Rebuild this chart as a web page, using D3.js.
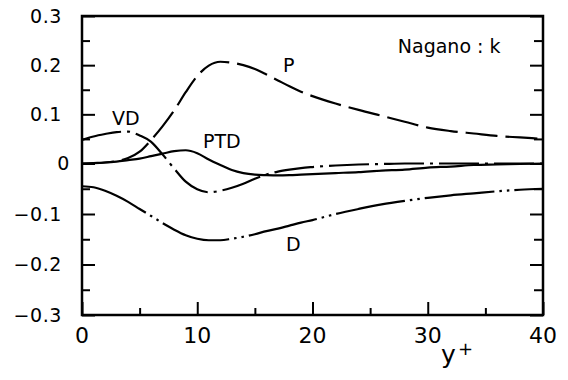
<!DOCTYPE html>
<html>
<head>
<meta charset="utf-8">
<script src="https://cdn.jsdelivr.net/npm/d3@7"></script>
<style>
  html, body { margin: 0; padding: 0; background: #fff; }
  svg { display: block; }
  text { font-family: "DejaVu Sans", sans-serif; fill: #000; }
</style>
</head>
<body>
<svg id="chart" width="568" height="380"></svg>
<script>
// Wall distance y+ shared by every budget term
const yPlus = [0, 1, 2, 3, 4, 5, 6, 7, 8, 9, 10, 11, 12, 13, 14, 15, 16, 17, 18, 19, 20,
               22, 24, 26, 28, 30, 32, 34, 36, 38, 40];

// Budget terms of k (Nagano model)
const production = [0, 0.0005, 0.002, 0.005, 0.011, 0.024, 0.048, 0.076, 0.108, 0.145, 0.178,
                    0.199, 0.207, 0.205, 0.200, 0.192, 0.181, 0.169, 0.157, 0.146, 0.137,
                    0.122, 0.109, 0.097, 0.085, 0.073, 0.066, 0.061, 0.056, 0.053, 0.050];
const viscousDiffusion = [0.048, 0.055, 0.060, 0.064, 0.065, 0.057, 0.044, 0.018, -0.010, -0.036, -0.051,
                          -0.057, -0.054, -0.048, -0.040, -0.030, -0.022, -0.016, -0.012, -0.009, -0.007,
                          -0.004, -0.002, -0.001, 0, 0, 0, 0, 0, 0, 0];
const turbDiffusion = [0, 0.001, 0.002, 0.004, 0.007, 0.010, 0.015, 0.020, 0.025, 0.027, 0.021,
                       0.008, -0.003, -0.013, -0.019, -0.022, -0.023, -0.0235, -0.023, -0.022, -0.021,
                       -0.019, -0.017, -0.014, -0.012, -0.008, -0.006, -0.003, -0.002, -0.001, 0];
const dissipation = [-0.045, -0.047, -0.054, -0.064, -0.076, -0.090, -0.104, -0.118, -0.131, -0.142, -0.149,
                     -0.152, -0.152, -0.149, -0.145, -0.140, -0.134, -0.129, -0.123, -0.117, -0.112,
                     -0.100, -0.090, -0.081, -0.074, -0.068, -0.063, -0.059, -0.055, -0.052, -0.050];

const seriesNames = ["P", "VD", "PTD", "D"];

// Tick values and labels
const xMajorTicks = [0, 10, 20, 30, 40];
const xMinorTicks = [5, 15, 25, 35];
const xTickLabels = ["0", "10", "20", "30", "40"];
const yMajorTicks = [-0.3, -0.2, -0.1, 0, 0.1, 0.2, 0.3];
const yMinorTicks = [-0.25, -0.15, -0.05, 0.05, 0.15, 0.25];
const yTickLabels = ["\u22120.3", "\u22120.2", "\u22120.1", "0", "0.1", "0.2", "0.3"];

const xTitle = "y";
const xTitleSup = "+";
const panelTitle = "Nagano : k";

const svg = d3.select("#chart");
const W = 568, H = 380;
const frame = { left: 82, right: 543, top: 16, bottom: 315 };

const x = d3.scaleLinear().domain([0, 40]).range([frame.left, frame.right]);
const y = d3.scaleLinear().domain([-0.3, 0, 0.3]).range([frame.bottom, 163.5, frame.top]);

svg.append("rect").attr("width", W).attr("height", H).attr("fill", "#fff");

// Curves
const styles = {
  P:   { values: production,       dash: "32,8" },
  VD:  { values: viscousDiffusion, dash: "40,6,3,6" },
  PTD: { values: turbDiffusion,    dash: null },
  D:   { values: dissipation,      dash: "70,5,2.5,5,2.5,5" }
};

const line = d3.line()
  .x(d => x(d[0]))
  .y(d => y(d[1]))
  .curve(d3.curveMonotoneX);

const curves = svg.append("g").attr("fill", "none").attr("stroke", "#000").attr("stroke-width", 2.2);
seriesNames.forEach(name => {
  const s = styles[name];
  const pts = yPlus.map((v, i) => [v, s.values[i]]);
  const p = curves.append("path").attr("d", line(pts));
  if (s.dash) p.attr("stroke-dasharray", s.dash);
});

// Ticks pointing into the frame
function ticks(axis, values, size, tx, ty) {
  const g = svg.append("g")
    .attr("transform", `translate(${tx},${ty})`)
    .call(axis.tickValues(values).tickSize(size).tickFormat(""));
  g.select(".domain").remove();
  g.selectAll("line").attr("stroke", "#000").attr("stroke-width", 2);
}
ticks(d3.axisRight(y), yMajorTicks, 13, frame.left, 0);
ticks(d3.axisRight(y), yMinorTicks, 8, frame.left, 0);
ticks(d3.axisLeft(y), yMajorTicks, 13, frame.right, 0);
ticks(d3.axisLeft(y), yMinorTicks, 9, frame.right, 0);
ticks(d3.axisTop(x), xMajorTicks, 13, 0, frame.bottom);
ticks(d3.axisTop(x), xMinorTicks, 7, 0, frame.bottom);

// Frame
svg.append("rect")
  .attr("x", frame.left).attr("y", frame.top)
  .attr("width", frame.right - frame.left).attr("height", frame.bottom - frame.top)
  .attr("fill", "none").attr("stroke", "#000").attr("stroke-width", 2.5);

// Y tick labels
svg.append("g").selectAll("text")
  .data(yMajorTicks)
  .join("text")
  .attr("x", d => d === 0 ? 70 : 62)
  .attr("y", d => y(d))
  .attr("dy", "0.36em")
  .attr("text-anchor", "end")
  .attr("font-size", 19)
  .attr("letter-spacing", 0.6)
  .text((d, i) => yTickLabels[i]);

// X tick labels
svg.append("g").selectAll("text")
  .data(xMajorTicks)
  .join("text")
  .attr("x", d => x(d))
  .attr("y", 343)
  .attr("text-anchor", "middle")
  .attr("font-size", 22)
  .text((d, i) => xTickLabels[i]);

// Axis title y+
svg.append("text").attr("x", 441).attr("y", 363).attr("font-size", 25).text(xTitle);
svg.append("text").attr("x", 458).attr("y", 355).attr("font-size", 18).text(xTitleSup);

// Curve labels, placed in data coordinates
const curveLabels = [
  { text: "VD",  at: [2.6, 0.078] },
  { text: "PTD", at: [10.5, 0.0315] },
  { text: "P",   at: [17.45, 0.186] },
  { text: "D",   at: [17.7, -0.173] }
];
svg.append("g").selectAll("text")
  .data(curveLabels)
  .join("text")
  .attr("x", d => x(d.at[0]))
  .attr("y", d => y(d.at[1]))
  .attr("font-size", 19)
  .text(d => d.text);

svg.append("text")
  .attr("x", x(27.4)).attr("y", y(0.225))
  .attr("font-size", 19)
  .text(panelTitle);
</script>
</body>
</html>
